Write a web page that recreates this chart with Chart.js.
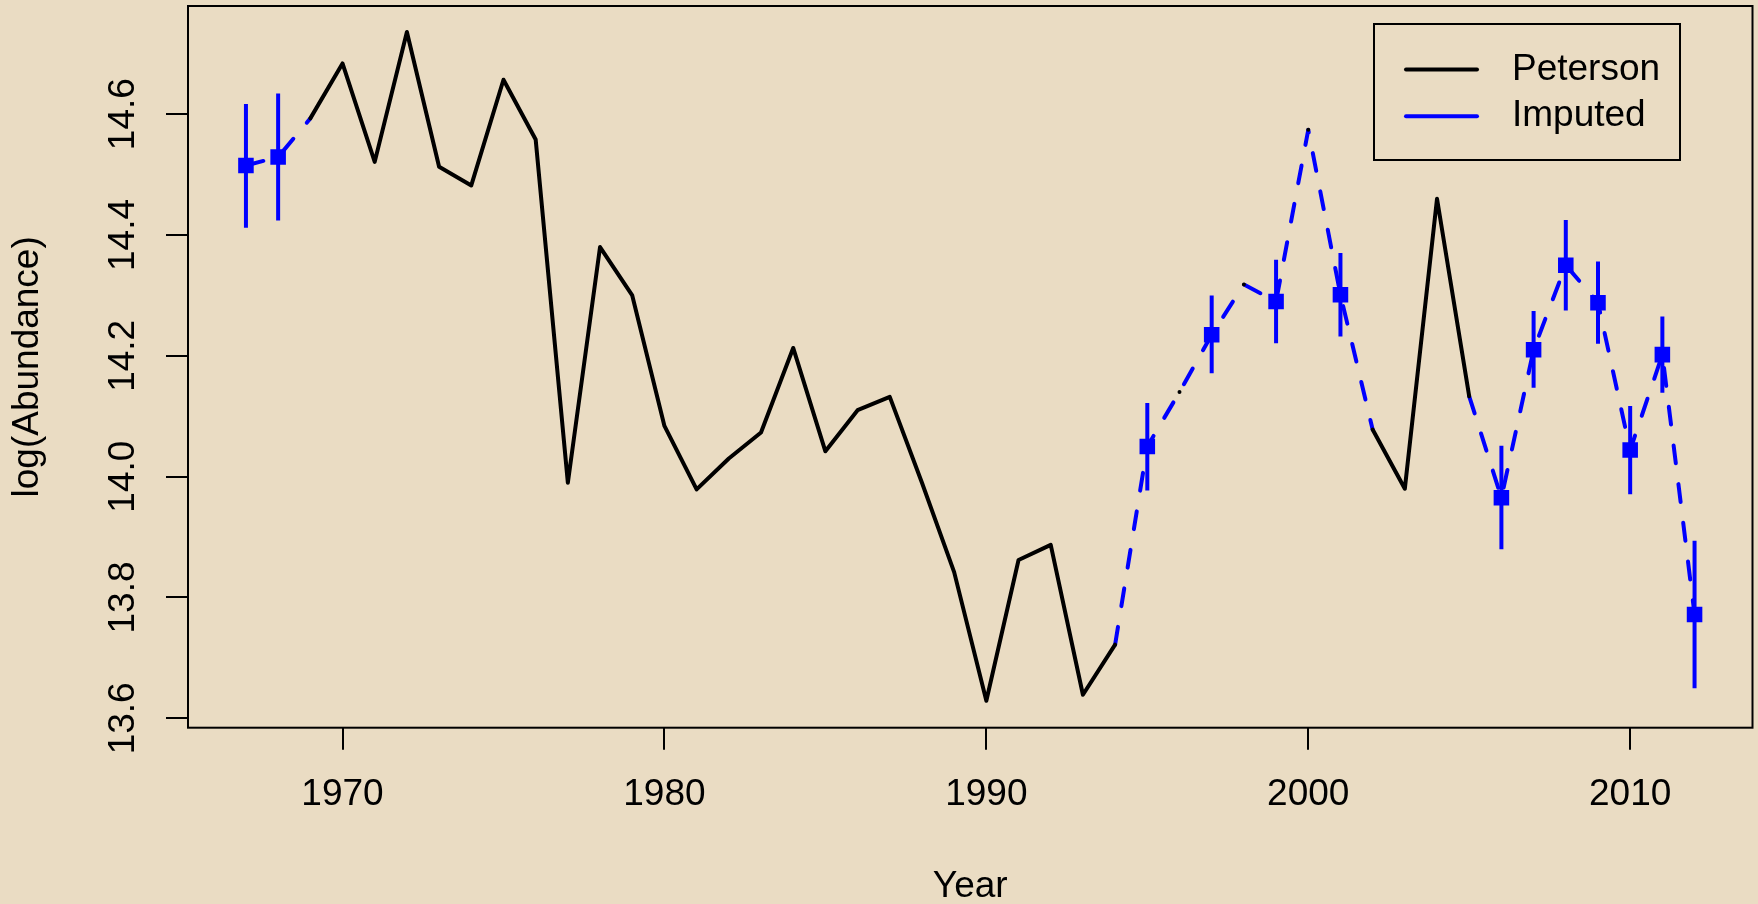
<!DOCTYPE html>
<html>
<head>
<meta charset="utf-8">
<script src="https://cdn.jsdelivr.net/npm/chart.js@4/dist/chart.umd.min.js"></script>
<style>
  html, body { margin: 0; padding: 0; background: #EADCC3; }
  canvas { display: block; }
</style>
</head>
<body>
<canvas id="c" width="1758" height="904"></canvas>
<script>
// ---- data ----
const years = [1967,1968,1969,1970,1971,1972,1973,1974,1975,1976,1977,1978,1979,1980,1981,1982,1983,1984,1985,1986,1987,1988,1989,1990,1991,1992,1993,1994,1995,1996,1997,1998,1999,2000,2001,2002,2003,2004,2005,2006,2007,2008,2009,2010,2011,2012];
const peterson = [null,null,14.593,14.684,14.521,14.736,14.513,14.482,14.657,14.558,13.990,14.380,14.300,14.084,13.979,14.030,14.073,14.213,14.042,14.110,14.132,13.990,13.842,13.629,13.862,13.887,13.639,13.722,null,14.140,null,14.318,null,14.574,null,14.078,13.980,14.460,14.133,null,null,null,null,null,null,null];
const imputedYears = [1967,1968,1995,1997,1999,2001,2006,2007,2008,2009,2010,2011,2012];
const imputedMean  = [14.515,14.529,14.050,14.235,14.290,14.301,13.965,14.210,14.350,14.288,14.044,14.202,13.772];
const imputedLower = [14.412,14.424,13.977,14.171,14.221,14.232,13.880,14.147,14.275,14.220,13.971,14.139,13.650];
const imputedUpper = [14.617,14.634,14.122,14.300,14.359,14.370,14.051,14.274,14.425,14.356,14.117,14.265,13.894];
const xTicks = [1970,1980,1990,2000,2010];
const yTicks = [13.6,13.8,14.0,14.2,14.4,14.6];
const seriesNames = ['Peterson','Imputed'];

// ---- derived structures ----
const impIndex = new Map(imputedYears.map((y, i) => [y, i]));
const isImp = y => impIndex.has(y);
const combined = years.map((yr, i) => peterson[i] !== null ? peterson[i] : (isImp(yr) ? imputedMean[impIndex.get(yr)] : null));
const petersonData = years.map((yr, i) => ({x: yr, y: peterson[i]}));
const dashedData = years.map((yr, i) => ({x: yr, y: (isImp(yr) || isImp(yr - 1) || isImp(yr + 1)) ? combined[i] : null}));
const markerData = imputedYears.map((yr, i) => ({x: yr, y: imputedMean[i]}));
const errData = [];
imputedYears.forEach((yr, i) => {
  errData.push({x: yr, y: imputedLower[i]}, {x: yr, y: imputedUpper[i]}, {x: yr, y: null});
});

const FONT = "'Liberation Sans', Arial, Helvetica, sans-serif";
const BLUE = '#0000FF';

const bgPlugin = {
  id: 'bg',
  beforeDraw(chart) {
    const ctx = chart.ctx;
    ctx.save();
    ctx.fillStyle = '#EADCC3';
    ctx.fillRect(0, 0, chart.width, chart.height);
    ctx.restore();
  }
};

const boxPlugin = {
  id: 'plotbox',
  afterDatasetsDraw(chart) {
    const {ctx, chartArea: a} = chart;
    ctx.save();
    ctx.strokeStyle = '#000';
    ctx.lineWidth = 2;
    ctx.strokeRect(a.left, a.top, a.right - a.left, a.bottom - a.top);
    ctx.restore();
  }
};

const legendPlugin = {
  id: 'rlegend',
  afterDraw(chart) {
    const {ctx, chartArea: a} = chart;
    const items = chart.data.datasets.filter(d => d.inLegend);
    const right = a.right - 72.5, top = a.top + 18, w = 306, h = 136;
    const left = right - w;
    ctx.save();
    ctx.strokeStyle = '#000';
    ctx.lineWidth = 2;
    ctx.strokeRect(left, top, w, h);
    ctx.font = '37px ' + FONT;
    ctx.textBaseline = 'middle';
    ctx.textAlign = 'left';
    items.forEach((d, i) => {
      const y = top + 45.5 + i * 46.7;
      ctx.strokeStyle = d.borderColor;
      ctx.lineWidth = 4;
      ctx.lineCap = 'round';
      ctx.beginPath();
      ctx.moveTo(left + 32, y);
      ctx.lineTo(left + 103, y);
      ctx.stroke();
      ctx.fillStyle = '#000';
      ctx.fillText(d.label, left + 138, y);
    });
    ctx.restore();
  }
};

const tickGrid = {display: true, drawOnChartArea: false, drawTicks: true, tickLength: 22, tickWidth: 2, tickColor: '#000', lineWidth: 2, color: '#000'};

new Chart(document.getElementById('c'), {
  type: 'line',
  data: {
    datasets: [
      {label: 'error bars', data: errData, borderColor: BLUE, borderWidth: 4, borderCapStyle: 'butt', pointRadius: 0, spanGaps: false, order: 0},
      {label: 'imputed points', data: markerData, showLine: false, pointStyle: 'rect', pointRadius: 11, pointBackgroundColor: BLUE, pointBorderWidth: 0, pointBorderColor: BLUE, order: 0},
      {label: seriesNames[0], inLegend: true, data: petersonData, borderColor: '#000000', borderWidth: 4, borderCapStyle: 'round', borderJoinStyle: 'round', pointRadius: 0, spanGaps: false, order: 1},
      {label: seriesNames[1], inLegend: true, data: dashedData, borderColor: BLUE, borderWidth: 4, borderDash: [18, 21], borderCapStyle: 'round', borderJoinStyle: 'round', pointRadius: 0, spanGaps: false, order: 2}
    ]
  },
  options: {
    responsive: false,
    animation: false,
    devicePixelRatio: 1,
    layout: {autoPadding: false, padding: {top: 6, right: 5.5, left: 0, bottom: 0}},
    plugins: {legend: {display: false}, tooltip: {enabled: false}},
    elements: {line: {tension: 0}},
    scales: {
      x: {
        type: 'linear', min: 1965.2, max: 2013.8, offset: false,
        afterBuildTicks: s => { s.ticks = xTicks.map(v => ({value: v})); },
        afterFit: s => { s.height = 176.3; s.paddingLeft = 0; s.paddingRight = 0; },
        grid: tickGrid,
        border: {display: false},
        ticks: {font: {family: FONT, size: 37}, color: '#000', padding: 23, minRotation: 0, maxRotation: 0, autoSkip: false, callback: v => String(v)},
        title: {display: true, text: 'Year', color: '#000', font: {family: FONT, size: 37, lineHeight: 0.9}, padding: {top: 0, bottom: 1}}
      },
      y: {
        type: 'linear', min: 13.5845, max: 14.779,
        afterBuildTicks: s => { s.ticks = yTicks.map(v => ({value: v})); },
        afterFit: s => { s.width = 188; s.paddingTop = 0; s.paddingBottom = 0; },
        grid: tickGrid,
        border: {display: false},
        ticks: {font: {family: FONT, size: 37}, color: '#000', padding: 6, minRotation: 90, maxRotation: 90, crossAlign: 'center', autoSkip: false, callback: v => Number(v).toFixed(1)},
        title: {display: true, text: 'log(Abundance)', color: '#000', font: {family: FONT, size: 37}, padding: {top: 6, bottom: 0}}
      }
    }
  },
  plugins: [bgPlugin, boxPlugin, legendPlugin]
});
</script>
</body>
</html>
